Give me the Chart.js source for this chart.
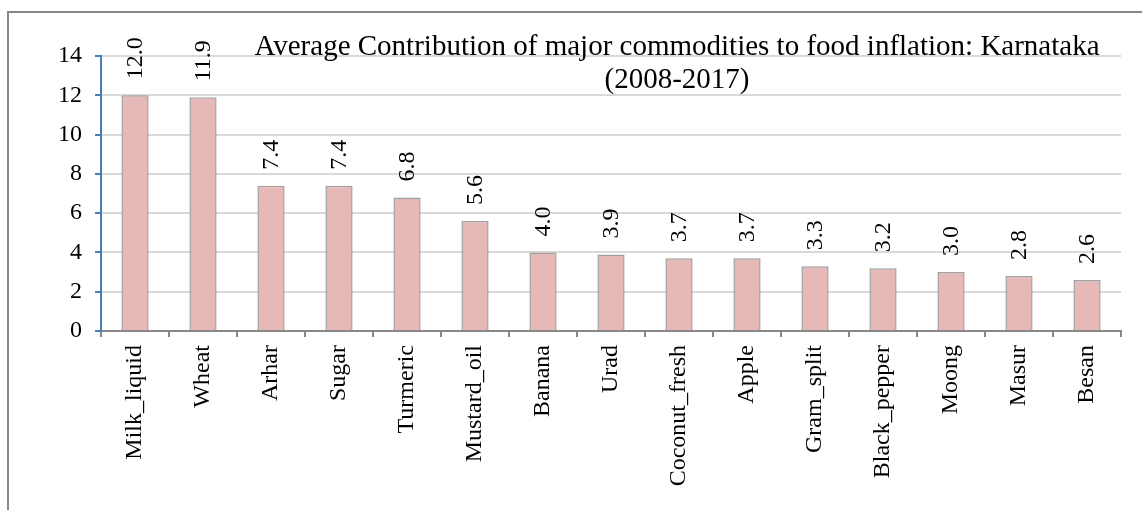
<!DOCTYPE html>
<html>
<head>
<meta charset="utf-8">
<title>Food inflation contributions: Karnataka</title>
<script src="https://cdn.jsdelivr.net/npm/chart.js@4.4.1/dist/chart.umd.min.js"></script>
<style>
  html, body { margin: 0; padding: 0; background: #fff; }
  #wrap { width: 1142px; height: 510px; position: relative; }
</style>
</head>
<body>
<div id="wrap"><canvas id="inflationChart" width="1142" height="510"></canvas></div>
<script>
  // commodities, ordered by contribution
  const commodities = ["Milk_liquid", "Wheat", "Arhar", "Sugar", "Turmeric", "Mustard_oil", "Banana", "Urad",
    "Coconut_fresh", "Apple", "Gram_split", "Black_pepper", "Moong", "Masur", "Besan"];
  const contribution = [12.0, 11.9, 7.4, 7.4, 6.8, 5.6, 4.0, 3.9, 3.7, 3.7, 3.3, 3.2, 3.0, 2.8, 2.6];
  const yTicks = [0, 2, 4, 6, 8, 10, 12, 14];
  const titleLines = ["Average Contribution of major commodities to food inflation: Karnataka", "(2008-2017)"];

  const serif = "'Liberation Serif', 'Times New Roman', serif";

  // white background + frame line along the top and left
  const framePlugin = {
    id: 'frame',
    beforeDraw(chart) {
      const ctx = chart.ctx;
      ctx.save();
      ctx.fillStyle = '#fff';
      ctx.fillRect(0, 0, chart.width, chart.height);
      ctx.strokeStyle = '#878787';
      ctx.lineWidth = 2;
      ctx.beginPath();
      ctx.moveTo(8, chart.height);
      ctx.lineTo(8, 12);
      ctx.lineTo(chart.width, 12);
      ctx.stroke();
      ctx.restore();
    }
  };

  // vertical value labels above each bar
  const valueLabels = {
    id: 'valueLabels',
    afterDatasetsDraw(chart) {
      const ctx = chart.ctx;
      const meta = chart.getDatasetMeta(0);
      ctx.save();
      ctx.font = '24px ' + serif;
      ctx.fillStyle = '#000';
      ctx.textAlign = 'left';
      ctx.textBaseline = 'middle';
      meta.data.forEach((bar, i) => {
        ctx.save();
        ctx.translate(bar.x + 1, bar.y - 16);
        ctx.rotate(-Math.PI / 2);
        ctx.fillText(contribution[i].toFixed(1), 0, 0);
        ctx.restore();
      });
      ctx.restore();
    }
  };

  // title sits inside the plot area, over the gridlines
  const innerTitle = {
    id: 'innerTitle',
    afterDraw(chart) {
      const ctx = chart.ctx;
      ctx.save();
      ctx.font = '29px ' + serif;
      ctx.fillStyle = '#000';
      ctx.textAlign = 'center';
      ctx.textBaseline = 'alphabetic';
      ctx.fillText(titleLines[0], 677, 55);
      ctx.fillText(titleLines[1], 677, 88);
      ctx.restore();
    }
  };

  new Chart(document.getElementById('inflationChart'), {
    type: 'bar',
    data: {
      labels: commodities,
      datasets: [{
        data: contribution,
        backgroundColor: '#E6B9B8',
        borderColor: '#A0A0A0',
        borderWidth: 1.5,
        categoryPercentage: 1.0,
        barPercentage: 0.4
      }]
    },
    options: {
      responsive: false,
      animation: false,
      layout: { padding: { left: 9, top: 56, right: 21, bottom: 0 } },
      plugins: {
        legend: { display: false },
        title: { display: false },
        tooltip: { enabled: false }
      },
      scales: {
        x: {
          afterFit(scale) { scale.height = 179; },
          border: { color: '#898989', width: 2 },
          grid: { drawOnChartArea: false, tickColor: '#898989', tickLength: 6, lineWidth: 2 },
          ticks: {
            autoSkip: false,
            minRotation: 90,
            maxRotation: 90,
            padding: 8,
            color: '#000',
            font: { family: serif, size: 24 }
          }
        },
        y: {
          min: 0,
          max: 14,
          afterFit(scale) { scale.width = 92; },
          afterBuildTicks(scale) { scale.ticks = yTicks.map(v => ({ value: v })); },
          border: { color: '#4A7EBB', width: 2 },
          grid: { color: '#D9D9D9', lineWidth: 2, tickColor: '#4A7EBB', tickLength: 6 },
          ticks: {
            padding: 13,
            color: '#000',
            font: { family: serif, size: 24 }
          }
        }
      }
    },
    plugins: [framePlugin, valueLabels, innerTitle]
  });
</script>
</body>
</html>
